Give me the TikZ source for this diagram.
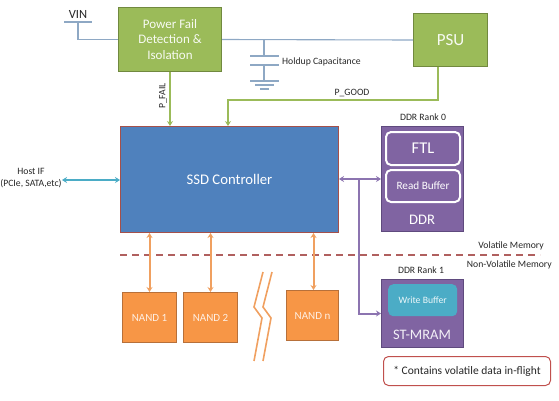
\documentclass[tikz,border=0pt]{standalone}
\usepackage{fontspec}
\setmainfont{Carlito}
\usetikzlibrary{arrows.meta}
\definecolor{gfill}{HTML}{9BBB59}
\definecolor{gdraw}{HTML}{71893F}
\definecolor{bfill}{HTML}{4F81BD}
\definecolor{bdraw}{HTML}{A5504A}
\definecolor{pfill}{HTML}{8064A2}
\definecolor{pdraw}{HTML}{5F4A7E}
\definecolor{ofill}{HTML}{F79646}
\definecolor{odraw}{HTML}{B7703A}
\definecolor{oline}{HTML}{F0A060}
\definecolor{pline}{HTML}{8C74B0}
\definecolor{tline}{HTML}{4BACC6}
\definecolor{wire}{HTML}{8EA8C4}
\definecolor{dashc}{HTML}{B0605F}
\definecolor{lbl}{HTML}{262626}
\definecolor{legred}{HTML}{C0504D}
\tikzset{
  greenbox/.style={draw=gdraw, fill=gfill, line width=1pt, text=white!92!gfill, align=center, inner sep=0pt, anchor=north west},
  purplebox/.style={draw=pdraw, fill=pfill, line width=1pt, inner sep=0pt, anchor=north west},
  nandbox/.style={draw=odraw, fill=ofill, line width=1pt, text=white!85!ofill, font=\fontsize{11}{12}\selectfont, inner sep=0pt, anchor=north west, minimum height=50pt},
  innerbox/.style={draw=white, line width=2pt, rounded corners=5pt, fill=pfill, text=white, inner sep=0pt, anchor=north west, minimum width=74pt},
  small/.style={font=\fontsize{9.7}{11}\selectfont, text=lbl, inner sep=0pt},
  wireline/.style={draw=wire, line width=1.1pt},
  gline/.style={draw=gfill, line width=2pt},
}
\begin{document}
\begin{tikzpicture}[x=1pt,y=-1pt, >={Stealth[length=5pt,width=6pt]}]
\useasboundingbox (0,0) rectangle (559,400);

% boxes
\node[greenbox, minimum width=103pt, minimum height=64pt, font=\fontsize{13}{15.3}\selectfont] (pf) at (118,7) {Power Fail\\Detection \&\\Isolation};
\node[greenbox, minimum width=74pt, minimum height=53pt, font=\fontsize{17}{19}\selectfont] (psu) at (413,13) {PSU};
\node[draw=bdraw, fill=bfill, line width=1pt, text=white, inner sep=0pt, anchor=north west, minimum width=218pt, minimum height=106pt, font=\fontsize{14.7}{16}\selectfont] (ssd) at (120,126) {SSD Controller};

\node[purplebox, minimum width=82pt, minimum height=105pt] (ddr) at (381,126) {};
\node[innerbox, minimum height=33pt, font=\fontsize{16.5}{18}\selectfont] (ftl) at (385,131) {FTL};
\node[innerbox, minimum height=32pt, font=\fontsize{11.2}{13}\selectfont] (rb) at (385,169) {Read Buffer};
\node[text=white, font=\fontsize{14.6}{16}\selectfont, inner sep=0pt] (ddrl) at (422,220) {DDR};
\node[small] (r0) at (423,117) {DDR Rank 0};

\node[purplebox, minimum width=82pt, minimum height=68pt] (mram) at (381,279) {};
\node[fill=tline, rounded corners=5pt, text=white!90!tline, inner sep=0pt, anchor=north west, minimum width=69pt, minimum height=32pt, font=\fontsize{9.7}{11}\selectfont] (wb) at (388,284) {Write Buffer};
\node[text=white!90!pfill, font=\fontsize{14.5}{17}\selectfont, inner sep=0pt] (mraml) at (422,335) {ST-MRAM};
\node[small] (r1) at (421,270) {DDR Rank 1};

\node[nandbox, minimum width=54pt] (n1) at (122,292) {NAND 1};
\node[nandbox, minimum width=54pt] (n2) at (183,292) {NAND 2};
\node[nandbox, minimum width=52pt] (nn) at (286,290) {NAND n};

\node[draw=legred, line width=1pt, rounded corners=5pt, anchor=north west, minimum width=167pt, minimum height=29pt, inner sep=0pt, font=\fontsize{11.5}{13}\selectfont, text=lbl] (leg) at (383,356) {* Contains volatile data in-flight};

% labels
\node[font=\fontsize{12.5}{14}\selectfont, text=lbl, inner sep=0pt] (vin) at (78,14) {VIN};
\node[small, anchor=west] (hold) at (282,62) {Holdup Capacitance};
\node[small] (pg) at (352,93) {P\_GOOD};
\node[small, rotate=90] (pfl) at (163,96) {P\_FAIL};
\node[small, align=center, font=\fontsize{9.7}{12}\selectfont] (host) at (31,178) {Host IF\\(PCIe, SATA,etc)};
\node[small, anchor=east] (vol) at (544,246) {Volatile Memory};
\node[small, anchor=east] (nvol) at (552,265) {Non-Volatile Memory};

% VIN wiring
\coordinate (vinL) at (64,22);
\coordinate (vinR) at (92,22);
\coordinate (vinT) at (78,22);
\draw[wireline] (vinL) -- (vinR);
\draw[wireline] (vinT) |- (pf.west);
\draw[wireline] (pf.east) -- (psu.west);

% capacitor
\coordinate (cT) at (264,40);
\coordinate (cA) at (264,56);
\coordinate (cB) at (264,65);
\coordinate (cG) at (264,81);
\draw[wireline] (cT) -- (cA);
\draw[wireline] ([xshift=-14pt]cA) -- ([xshift=15pt]cA);
\draw[wireline] ([xshift=-14pt]cB) -- ([xshift=15pt]cB);
\draw[wireline] (cB) -- (cG);
\draw[wireline] ([xshift=-14pt]cG) -- ([xshift=15pt]cG);
\draw[wireline] ([xshift=-9pt,yshift=-4pt]cG) -- ([xshift=10pt,yshift=-4pt]cG);
\draw[wireline] ([xshift=-4pt,yshift=-8pt]cG) -- ([xshift=5pt,yshift=-8pt]cG);

% P_FAIL / P_GOOD
\draw[gline, ->] (pf.south) -- (pf.south |- ssd.north);
\coordinate (pgC) at (228,100);
\draw[gline, ->] ([xshift=-13pt]psu.south) |- (pgC) -- (pgC |- ssd.north);

% host IF
\coordinate (hostR) at (62,180);
\draw[draw=tline, line width=2pt, <->] (hostR) -- (ssd.west |- hostR);

% DDR links
\coordinate (ddrJ) at (359,179);
\draw[draw=pline, line width=2pt, <->] (ssd.east |- ddrJ) -- (ddr.west |- ddrJ);
\draw[draw=pline, line width=2pt, ->] (ddrJ) |- (mram.west);

% dashed boundary
\coordinate (dL) at (120,255);
\coordinate (dR) at (540,255);
\draw[draw=dashc, line width=1.6pt, dash pattern=on 7pt off 5pt] (dL) -- (dR);

% NAND links
\draw[draw=oline, line width=2pt, <->] (n1.north |- ssd.south) -- (n1.north);
\draw[draw=oline, line width=2pt, <->] (n2.north |- ssd.south) -- (n2.north);
\draw[draw=oline, line width=2pt, <->] ([xshift=1pt]nn.north |- ssd.south) -- ([xshift=1pt]nn.north);

% break symbol
\draw[draw=oline, line width=1.6pt] (263,272) -- (254,307) -- (262,318) -- (254,361);
\draw[draw=oline, line width=1.6pt] (272,272) -- (263,307) -- (271,318) -- (263,361);
\end{tikzpicture}
\end{document}
